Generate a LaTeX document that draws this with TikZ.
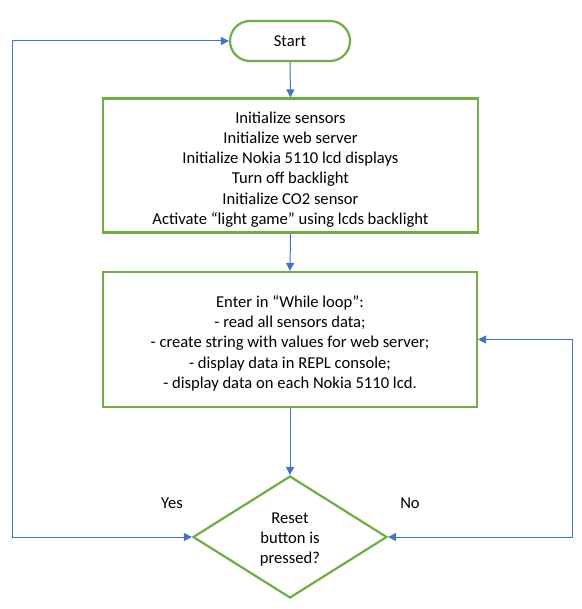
\documentclass[tikz,border=0pt]{standalone}
\usepackage{fontspec}
\setmainfont{Carlito}
\usetikzlibrary{shapes.geometric,arrows.meta}
\definecolor{fgreen}{HTML}{70AD47}
\definecolor{fblue}{HTML}{4472C4}
\newcommand{\lowerstrut}{\rule{0pt}{19.5pt}}
\tikzset{
  box/.style={draw=fgreen, line width=2.2pt, fill=white, align=center, inner sep=0pt, font=\fontsize{16.6}{20.3}\selectfont},
  conn/.style={draw=fblue, line width=1pt, -{Triangle[length=8pt,width=8pt]}},
  bconn/.style={draw=fblue, line width=1pt, {Triangle[length=8pt,width=8pt]}-{Triangle[length=8pt,width=8pt]}},
  lbl/.style={font=\fontsize{16.6}{20}\selectfont, inner sep=0pt}
}
\begin{document}
\begin{tikzpicture}[x=1pt,y=-1pt]
\useasboundingbox (0,0) rectangle (581,609);
\fill[white] (0,0) rectangle (581,609);
\node[box, rounded corners=20pt, minimum width=120pt, minimum height=40pt] (start) at (290,41) {Start};
\node[box, minimum width=375pt, minimum height=134pt] (init) at (290.5,165.5) {\lowerstrut Initialize sensors\\Initialize web server\\Initialize Nokia 5110 lcd displays\\Turn off backlight\\Initialize CO2 sensor\\Activate “light game” using lcds backlight};
\node[box, minimum width=374pt, minimum height=135pt] (loop) at (290,339.5) {\lowerstrut Enter in “While loop”:\\- read all sensors data;\\- create string with values for web server;\\- display data in REPL console;\\- display data on each Nokia 5110 lcd.};
\node[box, diamond, minimum width=194pt, minimum height=122pt] (dia) at (290,537) {\rule{0pt}{15.5pt}Reset\\button is\\pressed?};
\coordinate (lx) at (12,0);
\coordinate (rx) at (572,0);
\draw[conn] (start.south) -- (init.north);
\draw[conn] (init.south) -- (loop.north);
\draw[conn] (loop.south) -- (dia.north);
\draw[bconn] (dia.west) -- (dia.west -| lx) |- (start.west);
\draw[bconn] (dia.east) -- (dia.east -| rx) |- (loop.east);
\node[lbl] (yes) at (172,503) {Yes};
\node[lbl] (no) at (410,503) {No};
\end{tikzpicture}
\end{document}
